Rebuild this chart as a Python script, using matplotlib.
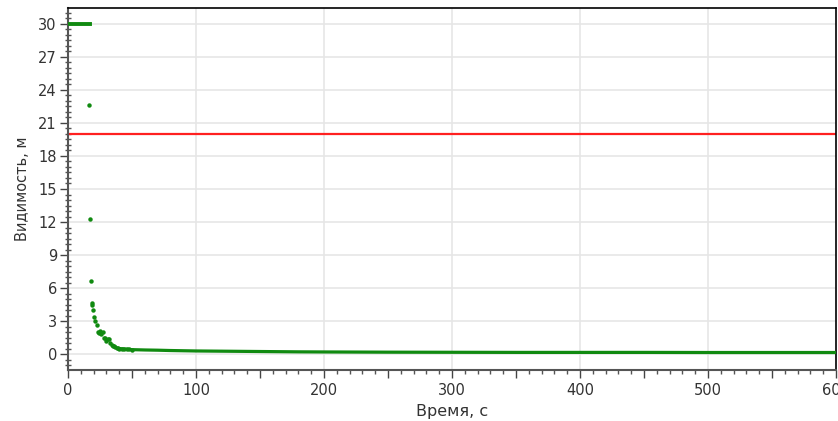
import numpy as np
import matplotlib.pyplot as plt
from matplotlib.ticker import MultipleLocator, FuncFormatter
from matplotlib import font_manager

# плато в начале (видимость ограничена 30 м)
t_flat = [0, 2, 4, 6, 8, 10, 12, 14, 16, 17]
v_flat = [30, 30, 30, 30, 30, 30, 30, 30, 30, 30]

# резкий спад
t_drop = [16.4, 17.2, 17.7, 18.5, 18.8, 19.5, 20.3, 21.0, 22.4, 23.5, 24.5, 25.0, 26.0, 27.0,
          28.0, 29.0, 30.0, 31.0, 32.0, 33.0, 34.0, 35.0, 36.0, 37.0, 38.0, 39.0, 40.0, 42.0,
          44.0, 46.0, 48.0, 50.0]
v_drop = [22.6, 12.3, 6.6, 4.6, 4.5, 4.0, 3.4, 3.0, 2.6, 2.0, 1.9, 2.1, 1.8, 2.0,
          1.5, 1.45, 1.2, 1.4, 1.35, 1.0, 0.8, 0.75, 0.7, 0.62, 0.55, 0.52, 0.5, 0.47,
          0.45, 0.43, 0.42, 0.4]

# хвост
t_tail = [40, 50, 60, 70, 80, 90, 100, 120, 150, 180, 200, 250, 300, 350, 400, 450, 500, 550, 600]
v_tail = [0.5, 0.4, 0.37, 0.35, 0.32, 0.3, 0.28, 0.26, 0.23, 0.2, 0.19, 0.17, 0.16, 0.15, 0.15,
          0.15, 0.14, 0.14, 0.14]

threshold = 20

names = {f.name for f in font_manager.fontManager.ttflist}
label_font = 'Liberation Sans Narrow' if 'Liberation Sans Narrow' in names else 'DejaVu Sans'

fig = plt.figure(figsize=(8.38, 4.21), dpi=100)
ax = fig.add_axes([68/838, 51/421, 768/838, 362/421])

ax.grid(True, axis='y', which='major', color='#e6e6e6', linewidth=1.2, zorder=0)
for xv in range(100, 600, 100):
    ax.axvline(xv, color='#e6e6e6', linewidth=1.2, zorder=0)
ax.axhline(threshold, color='#ff2020', linewidth=1.6, zorder=2)

green = '#108a10'
ax.plot(t_flat, v_flat, color=green, linewidth=2.8, zorder=3)
ax.plot(t_tail, v_tail, color=green, linewidth=2.3, zorder=3)
ax.plot(t_drop, v_drop, 'o', color=green, markersize=3.2, markeredgewidth=0, zorder=3)

ax.set_xlim(0, 600)
ax.set_ylim(-1.45, 31.45)

ax.xaxis.set_major_locator(MultipleLocator(50))
ax.xaxis.set_minor_locator(MultipleLocator(10))
ax.xaxis.set_major_formatter(FuncFormatter(lambda v, p: '%d' % v if v % 100 == 0 else ''))
ax.yaxis.set_major_locator(MultipleLocator(3))
ax.yaxis.set_minor_locator(MultipleLocator(0.5))

ax.tick_params(axis='both', which='major', length=6, width=1, color='#444444',
               labelsize=10.5, labelcolor='#333333')
ax.tick_params(axis='both', which='minor', length=3, width=1, color='#555555')
ax.tick_params(axis='y', which='minor', direction='inout', length=5)
ax.tick_params(axis='y', which='major', pad=2)

for s in ['left', 'bottom']:
    ax.spines[s].set_color('#555555')
    ax.spines[s].set_linewidth(1.5)
for s in ['top', 'right']:
    ax.spines[s].set_color('black')
    ax.spines[s].set_linewidth(1.2)

ax.set_xlabel('Время, с', fontsize=11.5, color='#333333', labelpad=4)
ax.set_ylabel('Видимость, м', fontsize=12 if label_font != 'DejaVu Sans' else 10.5,
              color='#333333', family=label_font, labelpad=6)

fig.savefig('out.png', dpi=100)
